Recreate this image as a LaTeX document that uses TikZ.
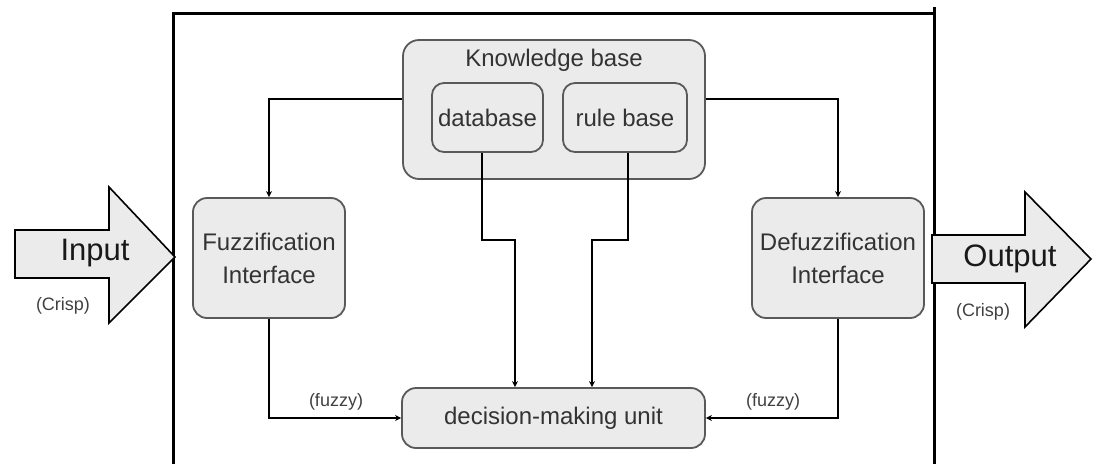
\documentclass[tikz,border=0pt]{standalone}
\usepackage{fontspec}
\setmainfont{Liberation Sans}
\usetikzlibrary{positioning,calc,arrows.meta}

\begin{document}
\begin{tikzpicture}[x=1pt,y=-1pt,
    box/.style={draw=black!65, line width=1.8pt, fill=black!8, rounded corners=14pt, inner sep=0pt, align=center, font=\fontsize{24}{33}\selectfont, text=black!80},
    conn/.style={line width=2.7pt, -{Stealth[length=6pt,width=6pt]}},
    frame/.style={line width=3pt},
    arrowbox/.style={draw=black, line width=1.6pt, fill=black!8, line join=miter},
    lbl/.style={font=\fontsize{24}{28}\selectfont, text=black!80},
    big/.style={font=\fontsize{31}{36}\selectfont, text=black!90},
    small/.style={font=\fontsize{18}{20}\selectfont, text=black!75}]
    \useasboundingbox (0,0) rectangle (1093,464);

    % Frame
    \draw[frame] (173,464) -- (173,13) -- (934,13);
    \draw[frame] (934,7) -- (934,464);

    % Knowledge base
    \node[box, minimum width=302pt, minimum height=139pt, rounded corners=16pt] (kb) at (554,109.5) {};
    \node[lbl] (kbtitle) at (554,60) {Knowledge base};
    \node[box, minimum width=111pt, minimum height=69pt, rounded corners=12pt] (db) at (487.5,117.5) {database};
    \node[box, minimum width=124pt, minimum height=69pt, rounded corners=12pt] (rb) at (625,117.5) {rule base};

    % Interfaces and unit
    \node[box, minimum width=152pt, minimum height=120pt] (fuzz) at (269,258) {Fuzzification\\Interface};
    \node[box, minimum width=172pt, minimum height=120pt] (defuzz) at (838,258) {Defuzzification\\Interface};
    \node[box, minimum width=303pt, minimum height=60pt] (dmu) at (553.5,418) {decision-making unit};

    % Connections
    \draw[conn] (kb.west |- 0,99) -| (fuzz.north);
    \draw[conn] (kb.east |- 0,99) -| (defuzz.north);
    \draw[conn] ([xshift=-5.5pt]db.south) -- ++(0,87) -| ([xshift=-38.5pt]dmu.north);
    \draw[conn] ([xshift=3pt]rb.south) -- ++(0,87) -| ([xshift=38.5pt]dmu.north);
    \draw[conn] (fuzz.south) |- (dmu.west);
    \draw[conn] (defuzz.south) |- (dmu.east);
    \node[small] (fzl) at (336,402) {(fuzzy)};
    \node[small] (fzr) at (773,402) {(fuzzy)};

    % Input / Output
    \draw[arrowbox] (15,230) -- (109,230) -- (109,187) -- (175,257) -- (109,323) -- (109,278) -- (15,278) -- cycle;
    \node[big] (in) at (95,253) {Input};
    \node[small] (incr) at (63,306) {(Crisp)};
    \draw[arrowbox] (932,235) -- (1025,235) -- (1025,192) -- (1091,259) -- (1025,327) -- (1025,283) -- (932,283) -- cycle;
    \node[big] (out) at (1010,259) {Output};
    \node[small] (outcr) at (983,312) {(Crisp)};
\end{tikzpicture}
\end{document}
